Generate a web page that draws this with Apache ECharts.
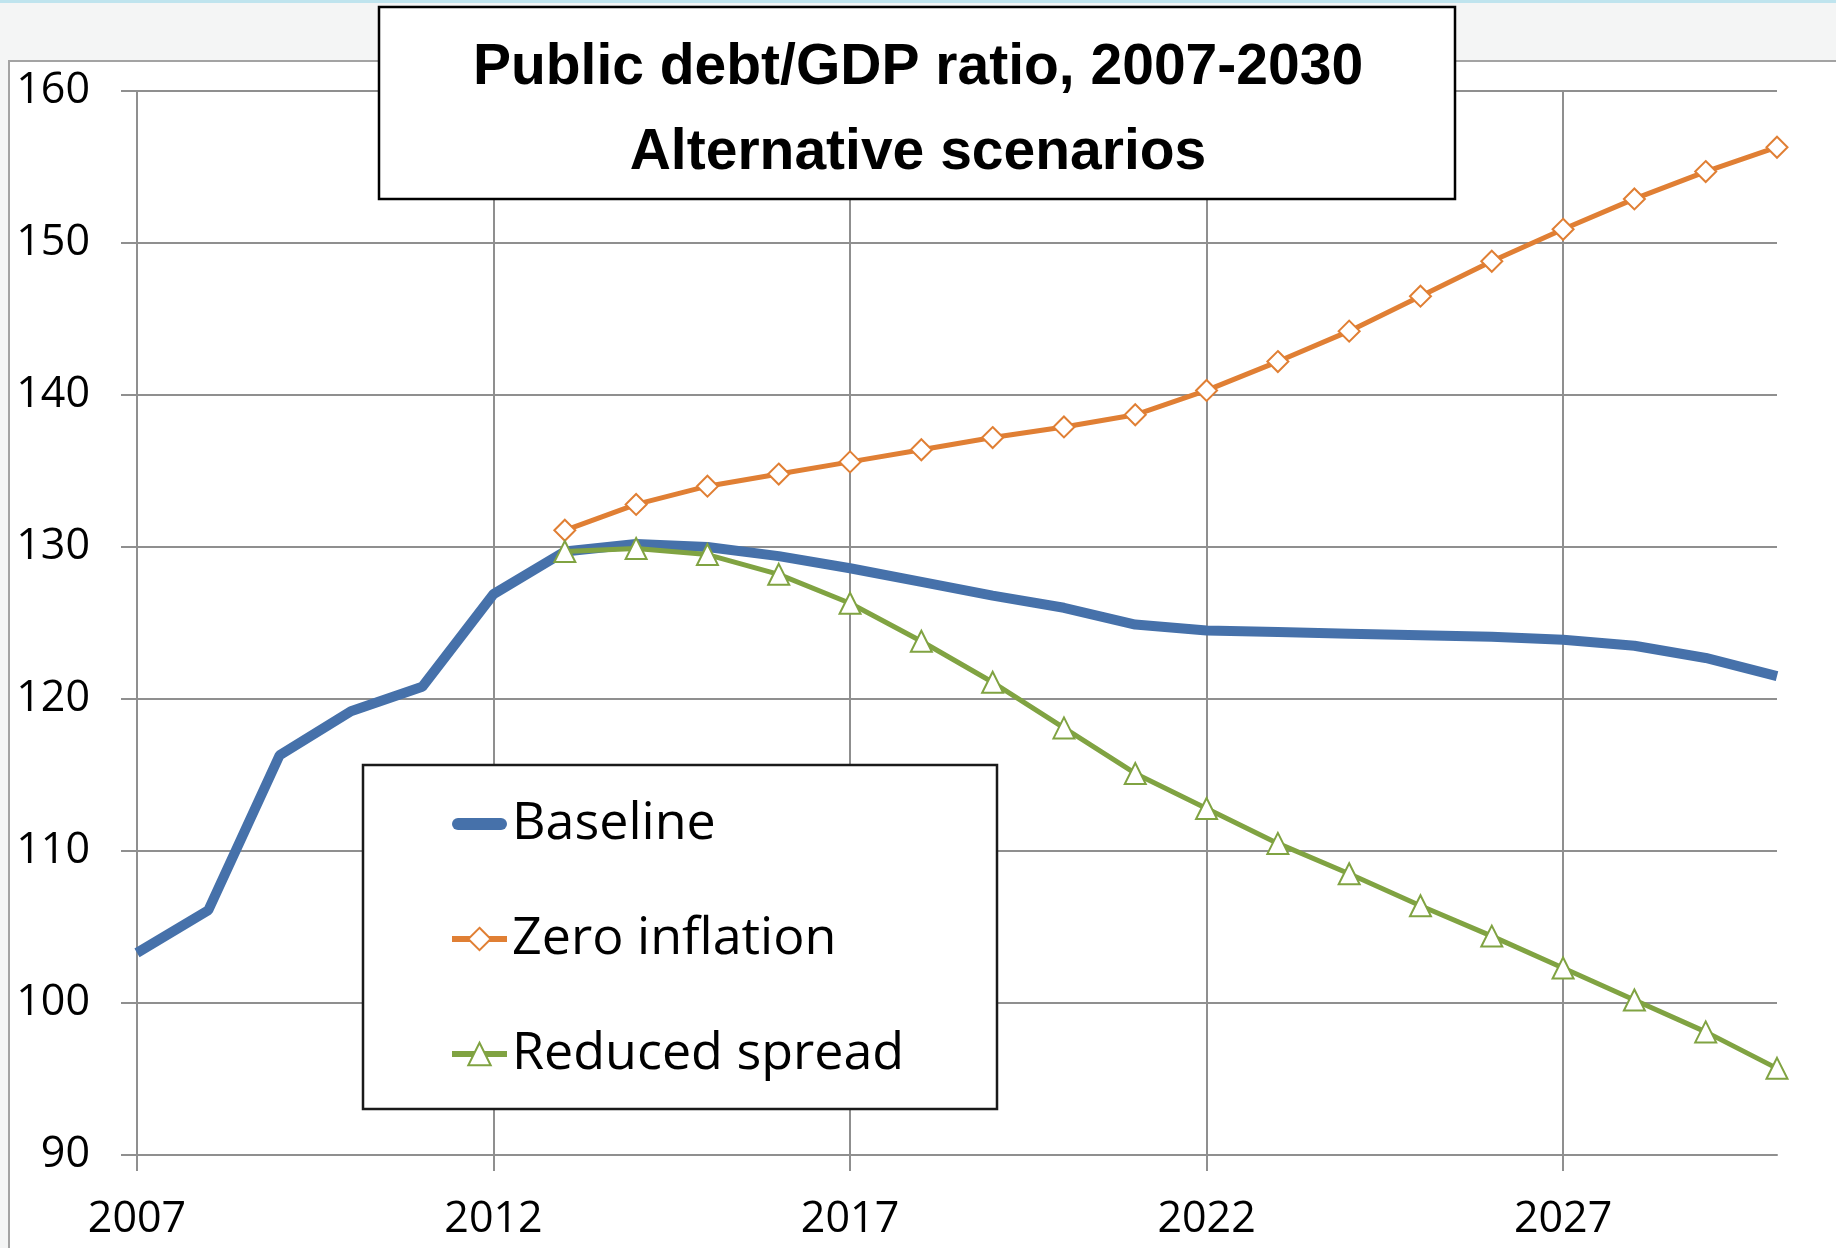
<!DOCTYPE html>
<html>
<head>
<meta charset="utf-8">
<script src="https://cdn.jsdelivr.net/npm/echarts@6/dist/echarts.min.js"></script>
<style>
html,body{margin:0;padding:0;background:#f4f5f5;}
#chart{width:1836px;height:1248px;}
</style>
</head>
<body>
<div id="chart"></div>
<script>
var years = ['2007','2008','2009','2010','2011','2012','2013','2014','2015','2016','2017','2018','2019','2020','2021','2022','2023','2024','2025','2026','2027','2028','2029','2030'];
var baseline = [103.3,106.1,116.3,119.2,120.8,126.9,129.7,130.2,130.0,129.4,128.6,127.7,126.8,126.0,124.9,124.5,124.4,124.3,124.2,124.1,123.9,123.5,122.7,121.5];
var zeroInflation = [null,null,null,null,null,null,131.1,132.8,134.0,134.8,135.6,136.4,137.2,137.9,138.7,140.3,142.2,144.2,146.5,148.8,150.9,152.9,154.7,156.3];
var reducedSpread = [null,null,null,null,null,null,129.7,129.9,129.5,128.2,126.3,123.8,121.1,118.1,115.1,112.8,110.5,108.5,106.4,104.4,102.3,100.2,98.1,95.7];
var seriesNames = ['Baseline','Zero inflation','Reduced spread'];
var titleLines = ['Public debt/GDP ratio, 2007-2030','Alternative scenarios'];

var GRID = '#8f8f8f';
var FONT = "'Open Sans', 'Noto Sans', sans-serif";
var BLUE = '#4671aa', ORANGE = '#e07f34', GREEN = '#80a342';
var chart = echarts.init(document.getElementById('chart'), null, {renderer:'canvas'});
chart.setOption({
  backgroundColor: '#f4f5f5',
  animation: false,
  title: {
    text: titleLines.join('\n'),
    left: 'center',
    top: 26,
    padding: 0,
    z: 10,
    textStyle: {
      fontFamily: "'Liberation Sans', Arial, sans-serif",
      fontWeight: 'bold',
      fontSize: 57,
      lineHeight: 85,
      color: '#000'
    }
  },
  graphic: [
    {type:'rect', z:-10, shape:{x:0,y:0,width:1836,height:3}, style:{fill:'#bfe4ee'}},
    {type:'rect', z:-9, shape:{x:9,y:61,width:1900,height:1300}, style:{fill:'#ffffff', stroke:'#a3a3a3', lineWidth:2}},
    {type:'rect', z:8, shape:{x:379,y:7,width:1076,height:192}, style:{fill:'#ffffff', stroke:'#000000', lineWidth:2.5}},
    {type:'rect', z:3, shape:{x:363,y:765,width:634,height:344}, style:{fill:'#ffffff', stroke:'#1a1a1a', lineWidth:2.5}}
  ],
  legend: {
    orient: 'vertical',
    left: 449,
    top: 794,
    padding: 0,
    itemWidth: 55,
    itemHeight: 28,
    itemGap: 55,
    z: 5,
    textStyle: {fontFamily: FONT, fontSize: 52, lineHeight: 60, color:'#000'},
    data: [
      {name: seriesNames[0], icon: 'path://M6,0 L49,0 A6,6 0 0 1 49,12 L6,12 A6,6 0 0 1 6,0 Z', itemStyle:{color:BLUE, borderWidth:0}},
      {name: seriesNames[1], lineStyle:{width:6}},
      {name: seriesNames[2], lineStyle:{width:6}}
    ]
  },
  grid: {left:137, top:91, right:59, bottom:93, containLabel:false},
  xAxis: {
    type: 'category',
    data: years,
    boundaryGap: false,
    axisLine: {show:true, lineStyle:{color:GRID, width:2}},
    axisTick: {show:true, interval:4, length:16, lineStyle:{color:GRID, width:2}},
    splitLine: {show:true, interval:4, lineStyle:{color:GRID, width:2}},
    axisLabel: {interval:4, margin:42, fontFamily:FONT, fontSize:43, lineHeight:46, color:'#000'}
  },
  yAxis: {
    type: 'value',
    min: 90, max: 160, interval: 10,
    axisLine: {show:true, lineStyle:{color:GRID, width:2}},
    axisTick: {show:true, length:16, lineStyle:{color:GRID, width:2}},
    splitLine: {show:true, lineStyle:{color:GRID, width:2}},
    axisLabel: {margin:47, fontFamily:FONT, fontSize:43, color:'#000'}
  },
  series: [
    {
      name: seriesNames[0], type:'line', data: baseline,
      symbol:'none', color:BLUE,
      lineStyle:{width:10, color:BLUE}, z:3
    },
    {
      name: seriesNames[1], type:'line', data: zeroInflation,
      symbol:'diamond', symbolSize:21, showAllSymbol:true, color:ORANGE,
      itemStyle:{color:'#ffffff', borderColor:ORANGE, borderWidth:2},
      lineStyle:{width:5, color:ORANGE}, z:4
    },
    {
      name: seriesNames[2], type:'line', data: reducedSpread,
      symbol:'triangle', symbolSize:21, showAllSymbol:true, color:GREEN,
      itemStyle:{color:'#ffffff', borderColor:GREEN, borderWidth:2},
      lineStyle:{width:5, color:GREEN}, z:4
    }
  ]
});
</script>
</body>
</html>
